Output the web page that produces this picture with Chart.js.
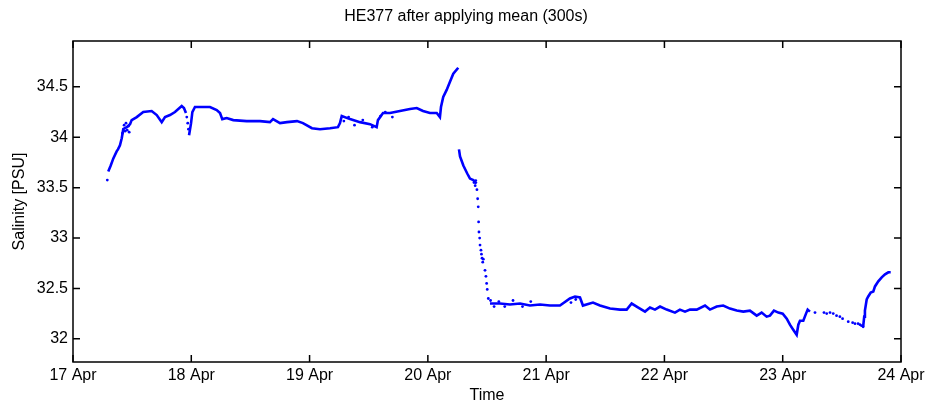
<!doctype html>
<html>
<head>
<title>HE377 salinity</title>
<script src="https://cdn.jsdelivr.net/npm/chart.js@4.4.1/dist/chart.umd.min.js"></script>
<style>
  body { margin: 0; background: #fff; }
  canvas { display: block; }
</style>
</head>
<body>
<canvas id="canvas" width="932" height="407"></canvas>
<script>
// days since 17 Apr 00:00
var xTicks = [0, 1, 2, 3, 4, 5, 6, 7];
var xTickLabels = ['17 Apr', '18 Apr', '19 Apr', '20 Apr', '21 Apr', '22 Apr', '23 Apr', '24 Apr'];
var yTicks = [32, 32.5, 33, 33.5, 34, 34.5];
var yTickLabels = ['32', '32.5', '33', '33.5', '34', '34.5'];

// continuous (dense) stretches, null = gap
var lineDays = [
  0.298, 0.319, 0.341, 0.369, 0.380, 0.397, 0.412, 0.425, 0.454, 0.482, 0.496, 0.539, 0.594, 0.665, 0.708,
  0.750, 0.778, 0.820, 0.862, 0.919, 0.938, 0.955,
  null,
  0.981, 0.998, 1.009, 1.031, 1.102, 1.158, 1.215,
  1.243, 1.262, 1.299, 1.355, 1.468, 1.581, 1.665, 1.691, 1.750, 1.809, 1.894, 1.944, 2.020, 2.088, 2.173,
  2.240, 2.257, 2.272, 2.342, 2.426, 2.511, 2.567, 2.578, 2.621, 2.680, 2.764, 2.849, 2.906, 2.959, 3.018,
  3.075, 3.102, 3.111, 3.130, 3.159, 3.187, 3.215, 3.257,
  null,
  3.263, 3.272, 3.300, 3.333, 3.356, 3.384, 3.412,
  null,
  3.525, 3.610, 3.694, 3.779, 3.863, 3.948, 4.032, 4.117, 4.201, 4.244, 4.286, 4.311, 4.396, 4.455, 4.540,
  4.624, 4.681, 4.723, 4.779, 4.836, 4.878, 4.920, 4.963, 5.019, 5.089, 5.131, 5.174, 5.216, 5.273, 5.343,
  5.385, 5.442, 5.497, 5.554, 5.611, 5.667, 5.723, 5.780, 5.822, 5.864, 5.892, 5.926, 5.963, 6.000, 6.034,
  6.061, 6.089, 6.118, 6.132, 6.146, 6.174, 6.197, 6.211, 6.230,
  null,
  6.680, 6.689, 6.695, 6.710, 6.723, 6.744, 6.766, 6.780, 6.808, 6.837, 6.865, 6.893, 6.913
];
var lineSal = [
  33.66, 33.72, 33.79, 33.86, 33.88, 33.92, 33.99, 34.08, 34.10, 34.13, 34.17, 34.20, 34.25, 34.26, 34.22,
  34.15, 34.20, 34.22, 34.25, 34.31, 34.29, 34.24,
  null,
  34.02, 34.14, 34.25, 34.30, 34.30, 34.30, 34.27,
  34.24, 34.18, 34.19, 34.17, 34.16, 34.16, 34.15, 34.18, 34.14, 34.15, 34.16, 34.14, 34.09, 34.08, 34.09,
  34.10, 34.14, 34.21, 34.18, 34.15, 34.13, 34.10, 34.17, 34.24, 34.24, 34.26, 34.28, 34.29, 34.26, 34.24,
  34.24, 34.20, 34.30, 34.40, 34.47, 34.55, 34.63, 34.69,
  null,
  33.88, 33.81, 33.72, 33.64, 33.59, 33.575, 33.54,
  null,
  32.35, 32.35, 32.34, 32.35, 32.33, 32.34, 32.33, 32.33, 32.40, 32.42, 32.41, 32.33, 32.36, 32.33, 32.30,
  32.29, 32.29, 32.35, 32.31, 32.27, 32.31, 32.29, 32.32, 32.29, 32.26, 32.29, 32.27, 32.29, 32.29, 32.33,
  32.29, 32.32, 32.33, 32.30, 32.28, 32.27, 32.28, 32.23, 32.26, 32.22, 32.23, 32.28, 32.26, 32.25, 32.20,
  32.14, 32.09, 32.04, 32.14, 32.18, 32.18, 32.25, 32.29, 32.27,
  null,
  32.12, 32.22, 32.28, 32.39, 32.42, 32.46, 32.47, 32.52, 32.57, 32.61, 32.64, 32.66, 32.66
];

// isolated / scattered samples
var dotDays = [
  0.290, 0.418, 0.432, 0.440, 0.448, 0.458, 0.468, 0.475, 0.962, 0.970, 0.976,
  2.290, 2.330, 2.380, 2.450, 2.530, 2.600, 2.640, 2.700,
  3.390, 3.400, 3.405, 3.415, 3.421, 3.426, 3.429, 3.432, 3.438, 3.441, 3.449, 3.453, 3.458, 3.464, 3.469,
  3.483, 3.491, 3.497, 3.502, 3.511,
  3.530, 3.560, 3.600, 3.650, 3.720, 3.800, 3.870, 4.210, 4.250,
  6.273, 6.349, 6.372, 6.400, 6.427, 6.455, 6.483, 6.506, 6.554, 6.591, 6.611, 6.637, 6.653, 6.666, 6.680
];
var dotSal = [
  33.575, 34.04, 34.12, 34.06, 34.14, 34.07, 34.11, 34.05, 34.20, 34.14, 34.08,
  34.16, 34.20, 34.12, 34.17, 34.10, 34.21, 34.25, 34.20,
  33.55, 33.52, 33.57, 33.48, 33.39, 33.31, 33.16, 33.06, 33.00, 32.93, 32.88, 32.84, 32.80, 32.76, 32.79,
  32.68, 32.62, 32.55, 32.49, 32.40,
  32.38, 32.32, 32.37, 32.32, 32.38, 32.32, 32.37, 32.36, 32.39,
  32.26, 32.26, 32.25, 32.26, 32.25, 32.23, 32.22, 32.20, 32.17, 32.16, 32.15, 32.15, 32.14, 32.13, 32.12
];

function pairs(xs, ys) {
  return xs.map(function(v, i) {
    return v === null ? { x: null, y: null } : { x: v, y: ys[i] };
  });
}

Chart.defaults.font.family = '"Liberation Sans", Arial, sans-serif';
Chart.defaults.font.size = 16;
Chart.defaults.color = '#000';

// MATLAB style box with inward ticks on all four sides
var frameTicks = {
  id: 'frameTicks',
  afterDraw: function(chart) {
    var ctx = chart.ctx, a = chart.chartArea, x = chart.scales.x, y = chart.scales.y;
    var len = 7;
    ctx.save();
    ctx.strokeStyle = '#000';
    ctx.lineWidth = 1.5;
    ctx.strokeRect(a.left, a.top, a.right - a.left, a.bottom - a.top);
    ctx.beginPath();
    x.ticks.forEach(function(t) {
      var p = x.getPixelForValue(t.value);
      ctx.moveTo(p, a.bottom); ctx.lineTo(p, a.bottom - len);
      ctx.moveTo(p, a.top); ctx.lineTo(p, a.top + len);
    });
    y.ticks.forEach(function(t) {
      var p = y.getPixelForValue(t.value);
      ctx.moveTo(a.left, p); ctx.lineTo(a.left + len, p);
      ctx.moveTo(a.right, p); ctx.lineTo(a.right - len, p);
    });
    ctx.stroke();
    ctx.restore();
  }
};

var config = {
  type: 'scatter',
  data: {
    datasets: [{
      label: 'Salinity',
      data: pairs(lineDays, lineSal),
      showLine: true,
      spanGaps: false,
      borderColor: '#0000ff',
      backgroundColor: '#0000ff',
      borderWidth: 2.6,
      pointRadius: 0,
      tension: 0
    }, {
      label: 'Salinity samples',
      data: pairs(dotDays, dotSal),
      showLine: false,
      backgroundColor: '#0000ff',
      borderWidth: 0,
      pointRadius: 1.4
    }]
  },
  options: {
    responsive: false,
    devicePixelRatio: 1,
    animation: false,
    layout: { padding: { left: 31, right: 31, top: 0, bottom: 0 } },
    plugins: {
      legend: { display: false },
      tooltip: { enabled: false },
      title: {
        display: true,
        text: 'HE377 after applying mean (300s)',
        color: '#000',
        font: { size: 16, weight: 'normal' },
        padding: { top: 7, bottom: 14.8 }
      }
    },
    scales: {
      x: {
        type: 'linear',
        min: 0,
        max: 7,
        afterBuildTicks: function(scale) {
          scale.ticks = xTicks.map(function(v) { return { value: v }; });
        },
        afterFit: function(scale) { scale.height = 45; },
        grid: { display: false, drawTicks: false },
        border: { display: false },
        ticks: {
          padding: 4,
          maxRotation: 0,
          callback: function(value, index) { return xTickLabels[index]; }
        },
        title: { display: true, text: 'Time', padding: { top: 0, bottom: 2 } }
      },
      y: {
        min: 31.77,
        max: 34.955,
        afterBuildTicks: function(scale) {
          scale.ticks = yTicks.map(function(v) { return { value: v }; });
        },
        afterFit: function(scale) { scale.width = 42; },
        grid: { display: false, drawTicks: false },
        border: { display: false },
        ticks: {
          padding: 5,
          callback: function(value, index) { return yTickLabels[index]; }
        },
        title: { display: true, text: 'Salinity [PSU]', padding: { top: -20.6, bottom: 0 } }
      }
    }
  },
  plugins: [frameTicks]
};

window.onload = function() {
  var ctx = document.getElementById('canvas').getContext('2d');
  window.myChart = new Chart(ctx, config);
};
</script>
</body>
</html>
